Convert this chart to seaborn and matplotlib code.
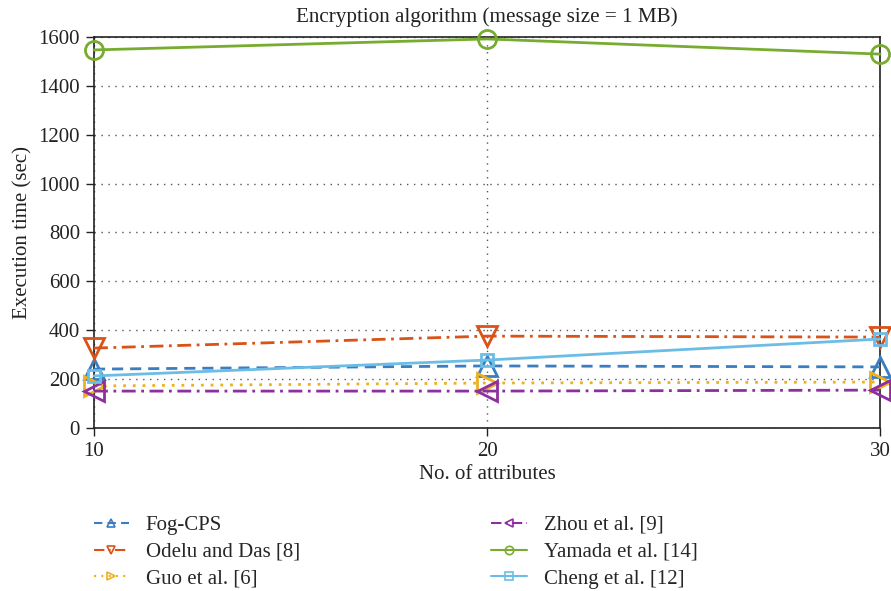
import matplotlib
matplotlib.use("Agg")
import matplotlib.pyplot as plt
import seaborn as sns
import pandas as pd
from matplotlib.lines import Line2D

attributes = [10, 20, 30]
fog_cps = [241, 254, 250]
odelu = [327, 376, 372]
guo = [172, 184, 188]
zhou = [151, 151, 155]
yamada = [1547, 1592, 1530]
cheng = [213, 278, 364]

series_names = ["Fog-CPS", "Odelu and Das [8]", "Guo et al. [6]",
                "Zhou et al. [9]", "Yamada et al. [14]", "Cheng et al. [12]"]
series_vals = [fog_cps, odelu, guo, zhou, yamada, cheng]
colors = ["#3A7DC0", "#D95319", "#EDB120", "#8E2FA0", "#77AC30", "#6CBDE6"]
markers = ["^", "v", ">", "<", "o", "s"]
linestyles = [(0, (4, 2.5)), (0, (5, 2, 1, 2)), (0, (1, 2.5)), (0, (5, 2, 1, 2)), "-", "-"]
msizes = [15, 15, 15, 15, 13, 9]

sns.set_theme(style="white")
plt.rcParams["font.family"] = ["Liberation Serif", "DejaVu Serif"]

fig = plt.figure(figsize=(8.91, 5.91), dpi=100)
ax = fig.add_axes([0.1055, 0.2758, 0.8822, 0.6616])

handles = []
for name, vals, c, m, ls, ms in zip(series_names, series_vals, colors, markers, linestyles, msizes):
    d = pd.DataFrame({"x": attributes, "y": vals})
    sns.lineplot(data=d, x="x", y="y", ax=ax, color=c, linestyle=ls, linewidth=2,
                 marker=m, markersize=ms, markerfacecolor="none",
                 markeredgecolor=c, markeredgewidth=2, clip_on=False, zorder=3)
    handles.append(Line2D([0], [0], color=c, linestyle=ls, linewidth=1.5, marker=m,
                          markersize=6, markerfacecolor="none", markeredgecolor=c,
                          markeredgewidth=1.2))

ax.set_xlim(10, 30)
ax.set_ylim(0, 1600)
ax.set_xticks([10, 20, 30])
ax.set_yticks(range(0, 1601, 200))
ax.grid(True, color="#555555", linestyle=(0, (1, 4)), linewidth=1)
ax.set_axisbelow(True)
for s in ax.spines.values():
    s.set_color("#222222")
    s.set_linewidth(1.2)
ax.tick_params(axis="both", direction="out", length=6, width=1, colors="#222222",
               labelsize=15, left=True, bottom=True, labelcolor="#222222", pad=4)
ax.set_xlabel("No. of attributes", fontsize=15, color="#222222", labelpad=3)
ax.set_ylabel("Execution time (sec)", fontsize=15, color="#222222", labelpad=4)
ax.set_title("Encryption algorithm (message size = 1 MB)", fontsize=15.2, color="#222222", pad=11)

fig.legend(handles, series_names,
           loc="upper left", bbox_to_anchor=(0.105, 0.128), bbox_transform=fig.transFigure,
           ncol=2, frameon=False, fontsize=15, columnspacing=9.2, handlelength=1.7,
           handletextpad=0.8, labelspacing=0.35, borderpad=0, borderaxespad=0)
fig.savefig("out.png", dpi=100)
